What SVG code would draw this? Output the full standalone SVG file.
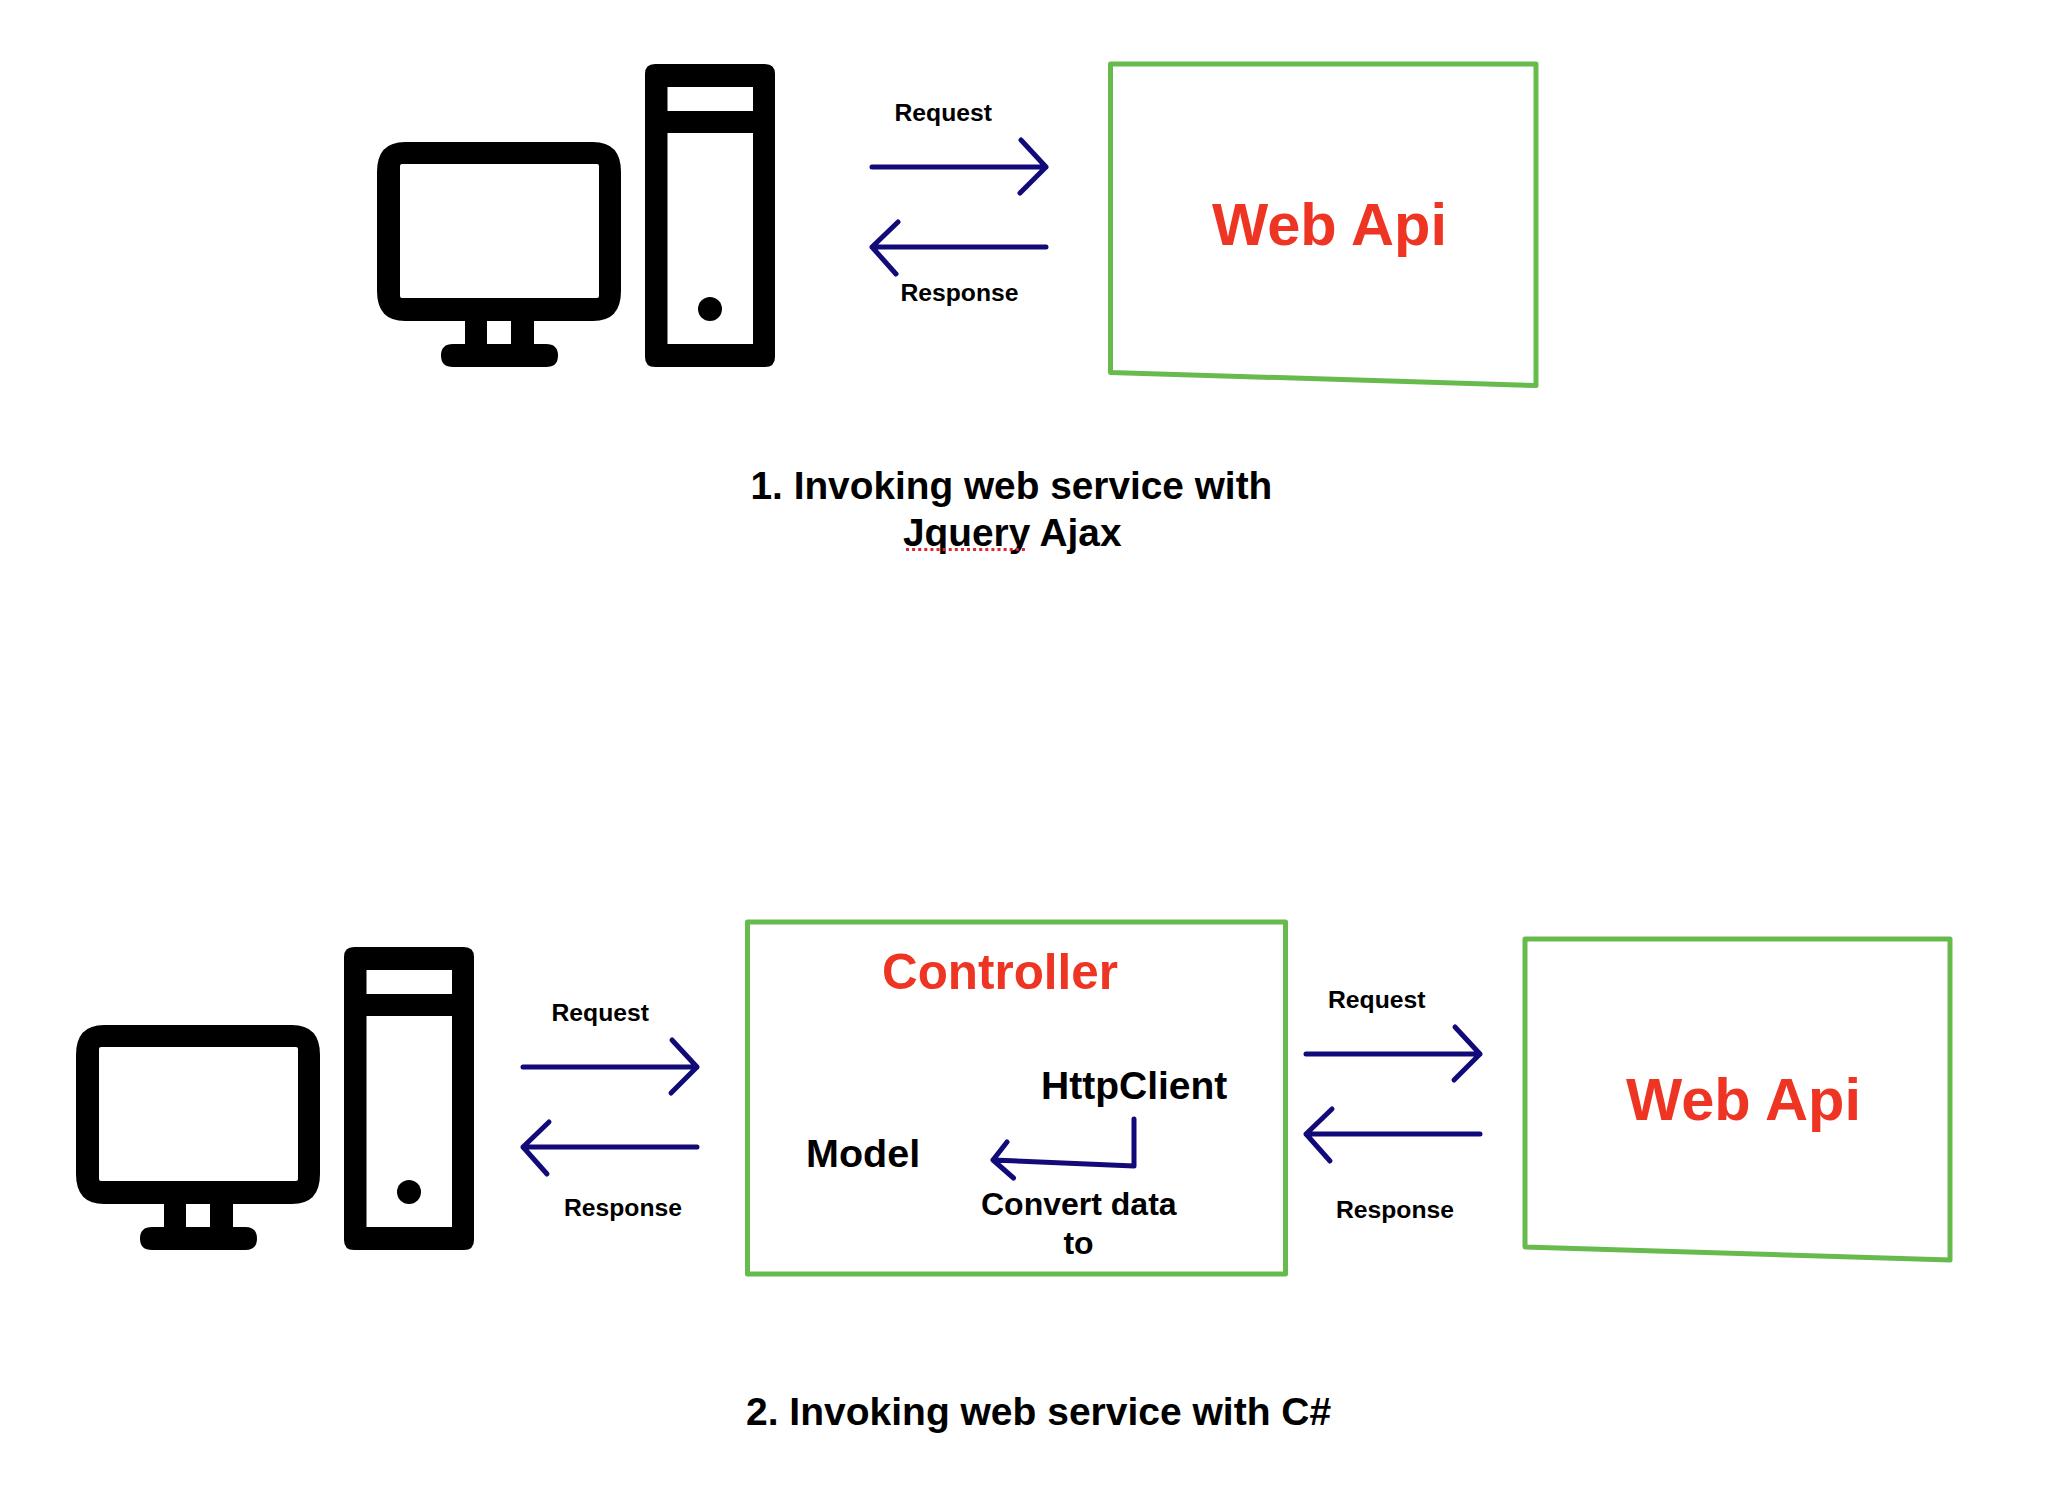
<svg xmlns="http://www.w3.org/2000/svg" xmlns:xlink="http://www.w3.org/1999/xlink" width="2062" height="1490" viewBox="0 0 2062 1490">
<style>
text{font-family:"Liberation Sans",Arial,sans-serif;font-weight:700;fill:#000}
.lbl{font-size:24.7px}
.red{fill:#ee3524}
.api{font-size:59.6px}
.title{font-size:38.8px}
.box{fill:#fff;stroke:#67bb4d;stroke-width:5;stroke-linejoin:round}
.arr{fill:none;stroke:#120a78;stroke-width:5;stroke-linecap:round;stroke-linejoin:round}
</style>
<defs>
<g id="computer">
<path fill-rule="evenodd" d="M405 142H593Q621 142 621 172V291Q621 321 593 321H534V344H546Q558 344 558 355.500Q558 367 546 367H453Q441 367 441 355.500Q441 344 453 344H465V321H405Q377 321 377 291V172Q377 142 405 142ZM402 164Q400 164 400 166V296Q400 298 402 298H597Q599 298 599 296V166Q599 164 597 164ZM487 321V344H511V321Z"/>
<path fill-rule="evenodd" d="M655 64H765Q775 64 775 74V357Q775 367 765 367H655Q645 367 645 357V74Q645 64 655 64ZM667.500 87V111H753V87ZM667.500 133V344H753V133Z"/>
<circle cx="710" cy="309" r="12"/>
</g>
<path id="right" d="M872 167H1046M1021 140L1046 167L1020 193"/>
<path id="left" d="M1046 247H872M898 222L872 247L896 274"/>
</defs>
<g id="computer-1"><use xlink:href="#computer" href="#computer"/></g>
<g id="web-api-1">
<path class="box" d="M1110.500 64H1536V385.500L1110.500 372.500Z"/>
<text class="api red" x="1212" y="245">Web Api</text>
</g>
<g id="title-1">
<text class="title" x="750.500" y="499">1. Invoking web service with</text>
<text class="title" x="903" y="546">Jquery Ajax</text>
<line x1="906" y1="549.500" x2="1027" y2="549.500" stroke="#e0242c" stroke-width="3" stroke-dasharray="3 3.100"/>
</g>
<g id="computer-2"><use xlink:href="#computer" href="#computer" x="-301" y="883"/></g>
<g id="controller">
<path class="box" d="M747.500 922H1285.500V1274H747.500Z"/>
<text class="red" x="882" y="989" font-size="49.400">Controller</text>
<text class="title" x="1041" y="1099" style="font-size:39px">HttpClient</text>
<text class="title" x="806" y="1167" style="font-size:39.500px">Model</text>
<text x="981" y="1215" font-size="32">Convert data</text>
<text x="1078.500" y="1254" font-size="32" text-anchor="middle">to</text>
</g>
<g id="web-api-2">
<path class="box" d="M1525 939H1950V1260L1525 1247Z"/>
<text class="api red" x="1626" y="1120">Web Api</text>
</g>
<g id="title-2">
<text class="title" x="746" y="1425" style="font-size:39px">2. Invoking web service with C#</text>
</g>
<g id="connectors">
<use class="arr" xlink:href="#right" href="#right"/>
<use class="arr" xlink:href="#left" href="#left"/>
<use class="arr" xlink:href="#right" href="#right" x="-349" y="900"/>
<use class="arr" xlink:href="#left" href="#left" x="-349" y="900"/>
<use class="arr" xlink:href="#right" href="#right" x="434" y="887"/>
<use class="arr" xlink:href="#left" href="#left" x="434" y="887"/>
<path class="arr" d="M1134 1119V1166L993 1160M1007 1142L993 1160L1013.500 1178"/>
</g>
<g id="connector-labels">
<text class="lbl" x="894.500" y="121">Request</text>
<text class="lbl" x="900.500" y="301">Response</text>
<text class="lbl" x="551.500" y="1021">Request</text>
<text class="lbl" x="564" y="1216">Response</text>
<text class="lbl" x="1328" y="1008">Request</text>
<text class="lbl" x="1336" y="1218">Response</text>
</g>
</svg>
